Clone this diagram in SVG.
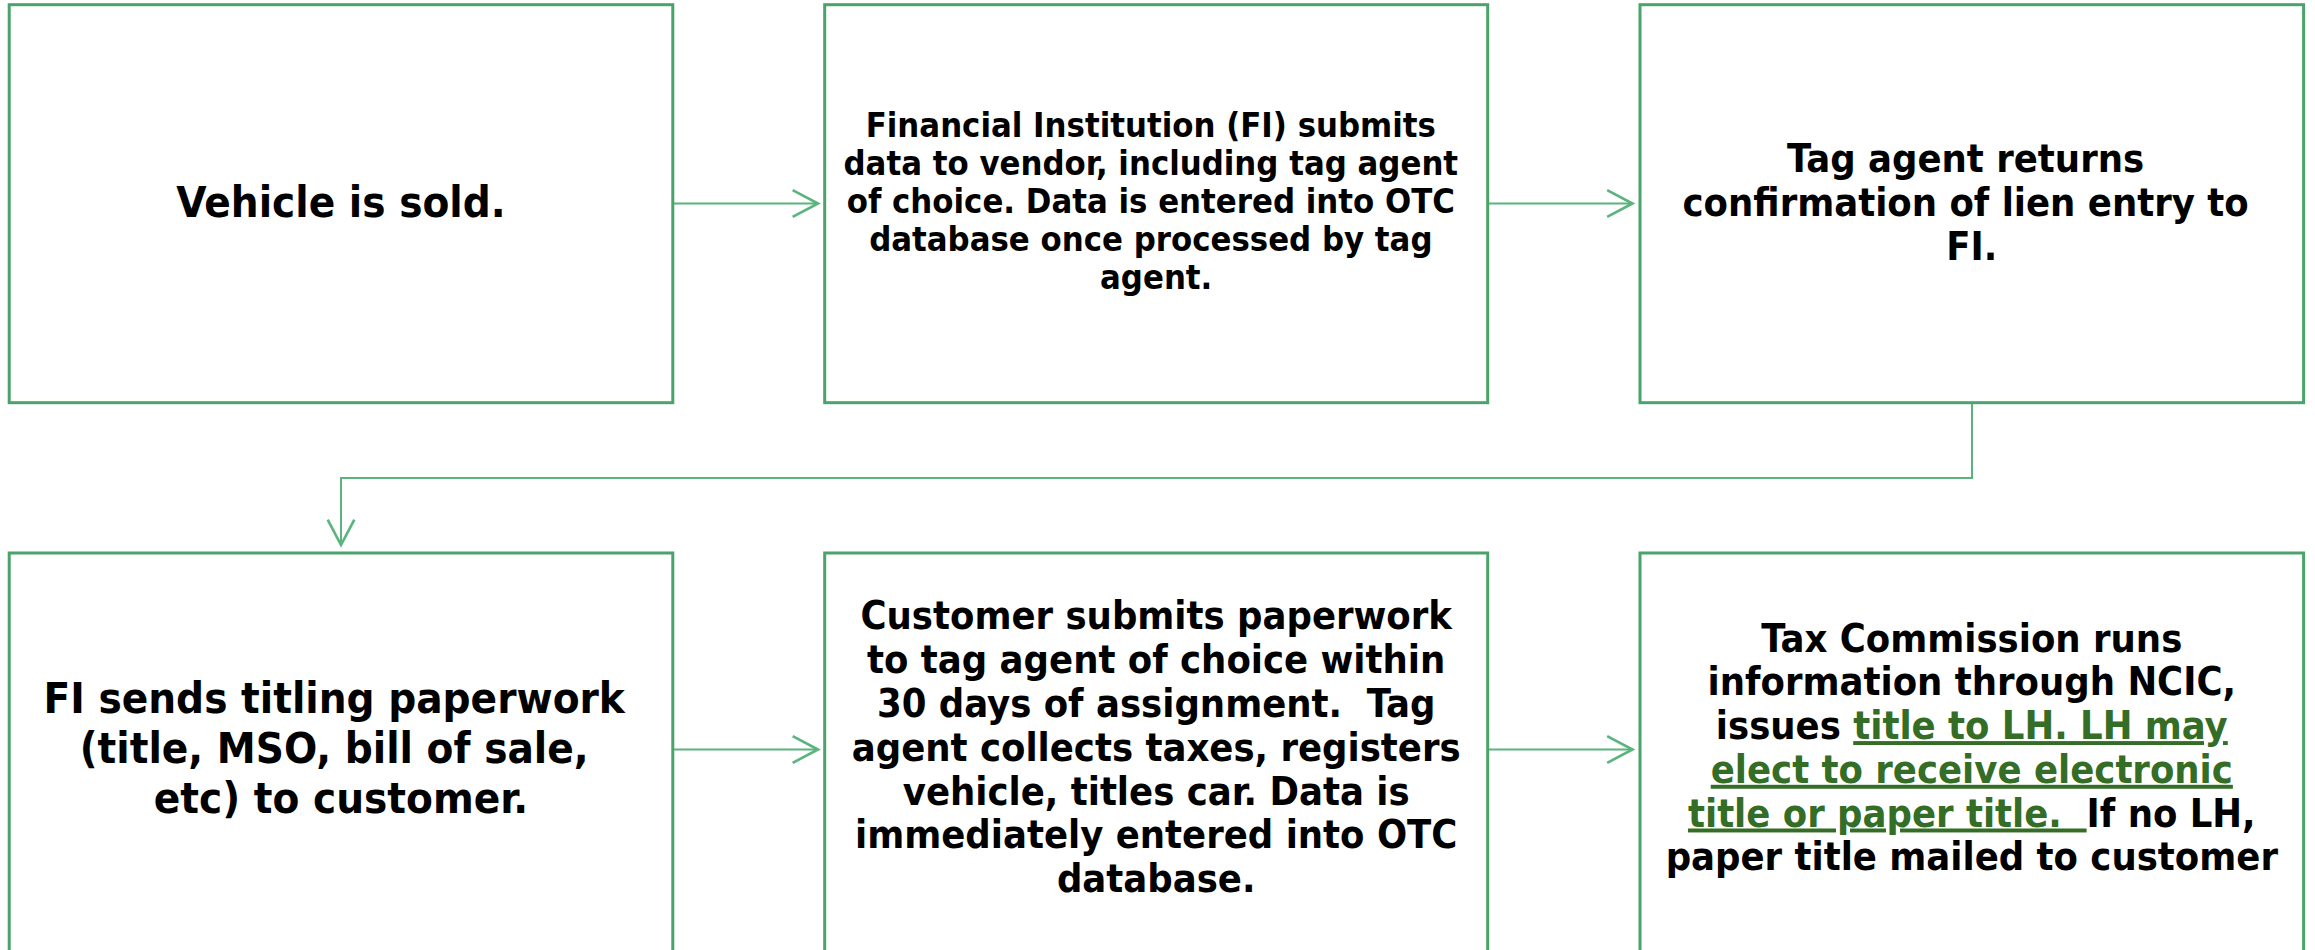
<svg xmlns="http://www.w3.org/2000/svg" width="2315" height="950" viewBox="0 0 2315 950">
<style>
.box{fill:#ffffff;stroke:#4aa36b;stroke-width:3}
.t{font-family:"DejaVu Sans Condensed","DejaVu Sans",sans-serif;font-stretch:condensed;font-weight:bold;fill:#000000;text-anchor:middle}
.g{fill:#346d26;text-decoration:underline}
.conn{fill:none;stroke:#5ab47d;stroke-width:2}
</style>
<defs>
<marker id="arr" markerUnits="userSpaceOnUse" markerWidth="40" markerHeight="40" viewBox="-25 -15 30 30" refX="0" refY="0" orient="auto" overflow="visible">
<path d="M-19,-10 L0,0 L-19,10" fill="none" stroke="#5ab47d" stroke-width="2"/>
</marker>
</defs>
<rect width="2315" height="950" fill="#ffffff"/>
<g id="connectors">
<path class="conn" d="M673,203.5 H818" marker-end="url(#arr)"/>
<path class="conn" d="M1488,203.5 H1632.5" marker-end="url(#arr)"/>
<path class="conn" d="M1972,404 V478 H341 V545" marker-end="url(#arr)"/>
<path class="conn" d="M673,749.5 H818" marker-end="url(#arr)"/>
<path class="conn" d="M1488,749.5 H1632.5" marker-end="url(#arr)"/>
</g>
<g id="node1">
<rect class="box" x="9.2" y="4.7" width="663.6" height="398"/>
<text class="t" font-size="43.5" x="341" y="216.7">Vehicle is sold.</text>
</g>
<g id="node2">
<rect class="box" x="824.7" y="4.7" width="663" height="398"/>
<text class="t" font-size="34.3" x="1156.2">
<tspan x="1156.2" y="136.5">Financial Institution (FI) submits</tspan>
<tspan x="1156.2" y="174.7">data to vendor, including tag agent</tspan>
<tspan x="1156.2" y="212.9">of choice. Data is entered into OTC</tspan>
<tspan x="1156.2" y="251.1">database once processed by tag</tspan>
<tspan x="1156.2" y="289.3">agent.</tspan>
</text>
</g>
<g id="node3">
<rect class="box" x="1640" y="4.7" width="663.6" height="398"/>
<text class="t" font-size="39.5" x="1971.8">
<tspan x="1971.8" y="171.7">Tag agent returns</tspan>
<tspan x="1971.8" y="216">confirmation of lien entry to</tspan>
<tspan x="1971.8" y="260.3">FI.</tspan>
</text>
</g>
<g id="node4">
<rect class="box" x="9.2" y="553" width="663.6" height="410"/>
<text class="t" font-size="43.5" x="341">
<tspan x="341" y="713.3">FI sends titling paperwork</tspan>
<tspan x="341" y="763.1">(title, MSO, bill of sale,</tspan>
<tspan x="341" y="812.9">etc) to customer.</tspan>
</text>
</g>
<g id="node5">
<rect class="box" x="824.7" y="553" width="663" height="410"/>
<text class="t" font-size="39.5" x="1156.2" xml:space="preserve"><tspan x="1156.2" y="629.3">Customer submits paperwork</tspan><tspan x="1156.2" y="673.1">to tag agent of choice within</tspan><tspan x="1156.2" y="716.9">30 days of assignment.  Tag</tspan><tspan x="1156.2" y="760.7">agent collects taxes, registers</tspan><tspan x="1156.2" y="804.5">vehicle, titles car. Data is</tspan><tspan x="1156.2" y="848.3">immediately entered into OTC</tspan><tspan x="1156.2" y="892.1">database.</tspan></text>
</g>
<g id="node6">
<rect class="box" x="1640" y="553" width="663.6" height="410"/>
<text class="t" font-size="39.5" x="1971.8" xml:space="preserve"><tspan x="1971.8" y="651.7">Tax Commission runs</tspan><tspan x="1971.8" y="695.4">information through NCIC,</tspan><tspan x="1971.8" y="739.1">issues <tspan class="g">title to LH. LH may</tspan></tspan><tspan x="1971.8" y="782.8" class="g">elect to receive electronic</tspan><tspan x="1971.8" y="826.5"><tspan class="g">title or paper title.  </tspan>If no LH,</tspan><tspan x="1971.8" y="870.2">paper title mailed to customer</tspan></text>
</g>
</svg>
